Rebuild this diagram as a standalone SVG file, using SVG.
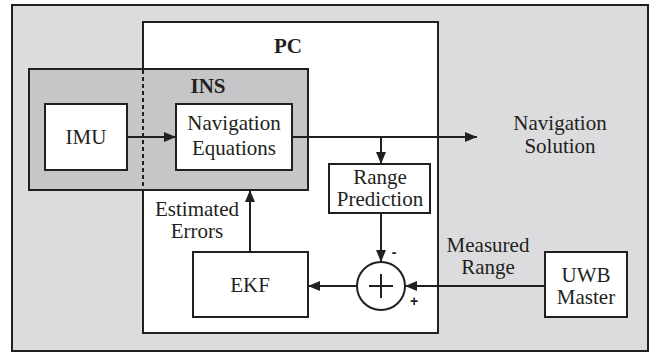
<svg xmlns="http://www.w3.org/2000/svg" width="656" height="356" viewBox="0 0 656 356">
<style>
.box{stroke:#231f20;stroke-width:2;fill:#fff}
.t{font-family:"Liberation Serif","Times New Roman",serif;font-size:21px;fill:#231f20;text-anchor:middle}
.b{font-weight:bold}
.s{font-family:"Liberation Sans",Arial,sans-serif;font-size:14px;font-weight:bold;fill:#231f20;text-anchor:middle}
.ln{stroke:#231f20;stroke-width:2;fill:none}
</style>
<defs>
<marker id="ah" viewBox="0 0 12 10" refX="12" refY="5" markerWidth="12" markerHeight="10" markerUnits="userSpaceOnUse" orient="auto">
<path d="M0,0 L12,5 L0,10 Z" fill="#231f20"/>
</marker>
</defs>
<g id="outer"><rect x="12" y="5" width="636" height="346" fill="#dcdcde" stroke="#231f20" stroke-width="2"/></g>
<g id="pc"><rect class="box" x="143" y="22" width="295" height="311"/><text class="t b" x="288" y="53">PC</text></g>
<g id="ins"><rect x="29" y="69" width="279" height="121" fill="#c6c6c8" stroke="#231f20" stroke-width="2"/>
<line x1="143" y1="70" x2="143" y2="190" stroke="#231f20" stroke-width="2" stroke-dasharray="4,3"/>
<text class="t b" x="208" y="93">INS</text></g>
<g id="imu"><rect class="box" x="45" y="104" width="82" height="66"/><text class="t" x="86" y="144">IMU</text></g>
<g id="naveq"><rect class="box" x="176" y="104" width="116" height="66"/><text class="t" x="234" y="130">Navigation</text><text class="t" x="234" y="155">Equations</text></g>
<g id="range"><rect class="box" x="329" y="164" width="101" height="49"/><text class="t" x="380" y="184">Range</text><text class="t" x="380" y="206">Prediction</text></g>
<g id="ekf"><rect class="box" x="193" y="252" width="115" height="65"/><text class="t" x="250" y="292">EKF</text></g>
<g id="uwb"><rect class="box" x="545" y="252" width="82" height="65"/><text class="t" x="586" y="282">UWB</text><text class="t" x="586" y="304">Master</text></g>
<g id="sum"><circle class="box" cx="381" cy="286" r="24"/><path class="ln" d="M369,286 H393 M381,274 V298"/>
<text class="s" x="394" y="257">-</text><text class="s" x="414" y="306">+</text></g>
<g id="navsol"><text class="t" x="560" y="130">Navigation</text><text class="t" x="560" y="153">Solution</text></g>
<g id="labels"><text class="t" x="197" y="216">Estimated</text><text class="t" x="197" y="238">Errors</text>
<text class="t" x="488" y="252">Measured</text><text class="t" x="488" y="274">Range</text></g>
<g id="connectors">
<line class="ln" x1="127" y1="137" x2="176" y2="137" marker-end="url(#ah)"/>
<line class="ln" x1="292" y1="137" x2="477" y2="137" marker-end="url(#ah)"/>
<line class="ln" x1="381" y1="137" x2="381" y2="164" marker-end="url(#ah)"/>
<line class="ln" x1="381" y1="213" x2="381" y2="262" marker-end="url(#ah)"/>
<line class="ln" x1="545" y1="286" x2="405" y2="286" marker-end="url(#ah)"/>
<line class="ln" x1="357" y1="286" x2="308" y2="286" marker-end="url(#ah)"/>
<line class="ln" x1="250" y1="252" x2="250" y2="190" marker-end="url(#ah)"/>
</g>
</svg>
